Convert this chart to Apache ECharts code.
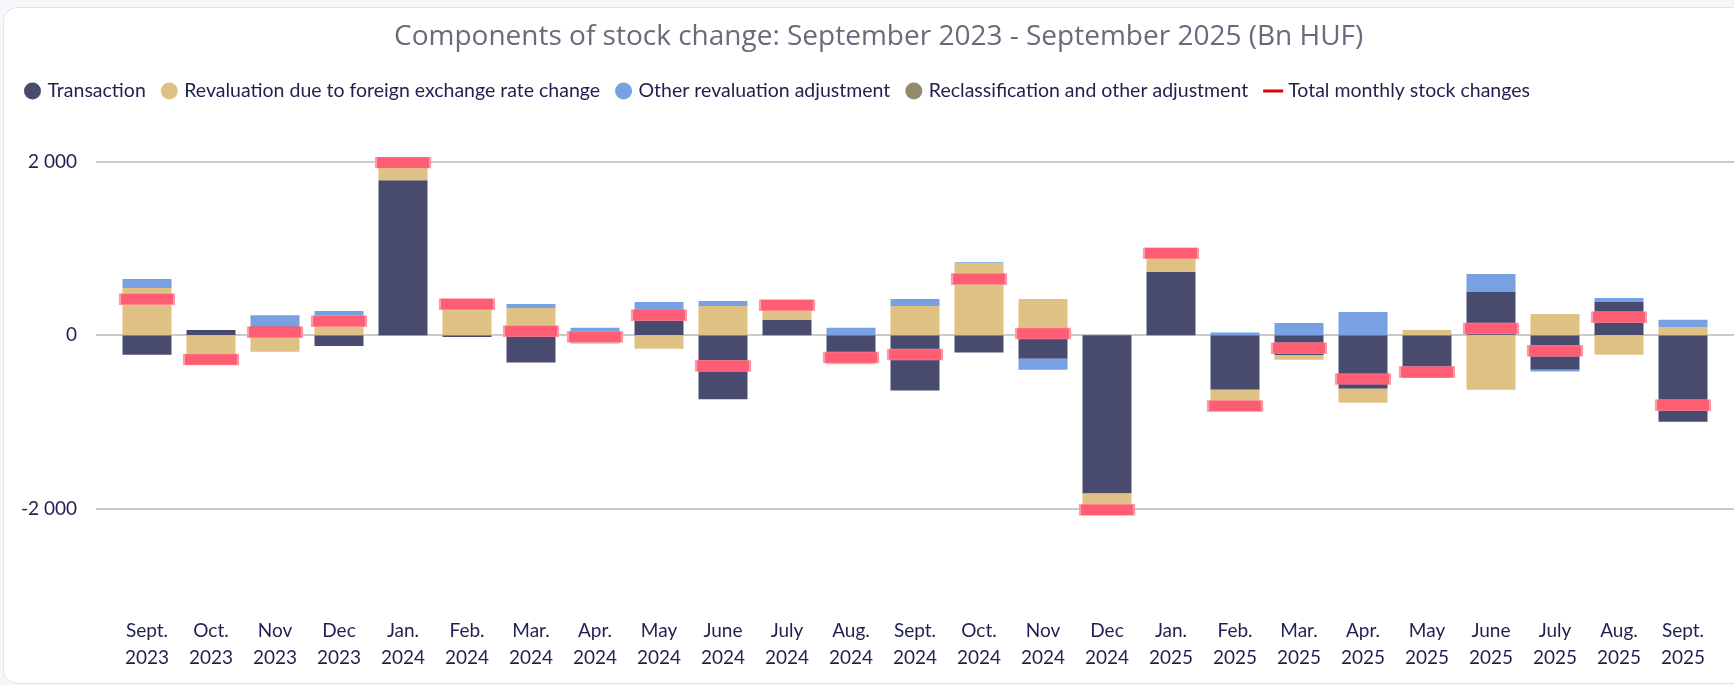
<!DOCTYPE html>
<html>
<head>
<meta charset="utf-8">
<title>Components of stock change</title>
<script src="https://cdn.jsdelivr.net/npm/echarts@6/dist/echarts.min.js"></script>
<style>
  html, body { margin: 0; padding: 0; background: #f6f6fb; }
  .card {
    position: absolute; left: 3px; top: 7px; width: 1760px; height: 675px;
    background: #fff; border: 1px solid #e2e2ec; border-radius: 14px;
  }
  #main { position: absolute; left: 0; top: 0; width: 1734px; height: 685px; }
</style>
</head>
<body>
<div class="card"></div>
<!-- chart container sits over the white card -->
<div id="main"></div>
<script>
// categories (month + year)
var months = [
  'Sept.\n2023', 'Oct.\n2023', 'Nov\n2023', 'Dec\n2023',
  'Jan.\n2024', 'Feb.\n2024', 'Mar.\n2024', 'Apr.\n2024', 'May\n2024', 'June\n2024',
  'July\n2024', 'Aug.\n2024', 'Sept.\n2024', 'Oct.\n2024', 'Nov\n2024', 'Dec\n2024',
  'Jan.\n2025', 'Feb.\n2025', 'Mar.\n2025', 'Apr.\n2025', 'May\n2025', 'June\n2025',
  'July\n2025', 'Aug.\n2025', 'Sept.\n2025'
];

// components, Bn HUF
var transaction = [-225, 60, 105, -125, 1790, -20, -315, 5, 300, -740, 177, -295, -640,
  -200, -273, -1828, 730, -630, -230, -618, -490, 499, -399, 384, -998];
var revaluationFx = [545, -290, -190, 185, 215, 375, 315, -100, -157, 338, 170, -40, 338,
  833, 419, -190, 215, -215, -54, -161, 61, -630, 246, -227, 96];
var otherRevaluation = [104, 0, 125, 95, -10, 0, 46, 80, 84, 58, 0, 85, 81,
  10, -127, 0, 0, 30, 142, 269, 0, 207, -19, 46, 81];
var reclassification = [0, -40, 0, 0, 0, 0, 0, 0, 0, 0, 0, 0, 0,
  0, 0, 0, 0, 0, 0, 0, 0, 0, 0, 0, 0];
var totalChange = [415, -280, 35, 160, 1993, 357, 46, -17, 230, -353, 346, -257, -223,
  649, 19, -2016, 945, -818, -150, -507, -426, 77, -180, 207, -810];

// y axis ticks that get a label and a grid line
var labelledTicks = [-2000, 0, 2000];

var names = [
  'Transaction',
  'Revaluation due to foreign exchange rate change',
  'Other revaluation adjustment',
  'Reclassification and other adjustment',
  'Total monthly stock changes'
];
var colors = ['#484a6e', '#dfc283', '#77a1e1', '#958a6e'];

function fmt(v) {
  var s = String(Math.abs(v)).replace(/\B(?=(\d{3})+(?!\d))/g, ' ');
  return (v < 0 ? '-' : '') + s;
}

var myChart = echarts.init(document.getElementById('main'));

var textColor = '#1f2050';
var gridTop = 162, gridBottom = 90;

function barSeries(i, data) {
  return {
    name: names[i],
    type: 'bar',
    xAxisIndex: 1,
    yAxisIndex: 1,
    stack: 'components',
    barWidth: 49,
    itemStyle: { color: colors[i] },
    data: data
  };
}

var option = {
  animation: false,
  title: {
    text: 'Components of stock change: September 2023 - September 2025 (Bn HUF)',
    left: 389,
    top: 18,
    textStyle: { fontFamily: 'Open Sans', fontSize: 28, fontWeight: 'normal', color: '#6a6a7c' }
  },
  legend: {
    left: 19,
    top: 76,
    itemWidth: 20,
    itemHeight: 17,
    itemGap: 15,
    textStyle: { fontFamily: 'Lato', fontSize: 19.5, color: textColor },
    data: [
      { name: names[0], icon: 'circle' },
      { name: names[1], icon: 'circle' },
      { name: names[2], icon: 'circle' },
      { name: names[3], icon: 'circle', itemStyle: { color: colors[3] } },
      { name: names[4], icon: 'path://M0,0H20V3H0Z', itemStyle: { color: '#e00000', borderWidth: 0 } }
    ]
  },
  // grid 0 carries the y labels and the wider grid lines, grid 1 the bars
  grid: [
    { left: 96, right: 0, top: gridTop, bottom: gridBottom },
    { left: 115, right: 19, top: gridTop, bottom: gridBottom }
  ],
  xAxis: [
    { gridIndex: 0, type: 'value', show: false, min: 0, max: 1 },
    {
      gridIndex: 1,
      type: 'category',
      data: months,
      axisLine: { show: false },
      axisTick: { show: false },
      axisLabel: {
        interval: 0,
        margin: 22,
        fontFamily: 'Lato',
        fontSize: 19,
        lineHeight: 27,
        color: textColor
      }
    }
  ],
  yAxis: [
    {
      gridIndex: 0,
      type: 'value',
      min: -3000,
      max: 2000,
      interval: 1000,
      axisLine: { show: false },
      axisTick: { show: false },
      axisLabel: {
        margin: 19,
        fontFamily: 'Lato',
        fontSize: 19,
        color: textColor,
        formatter: function (v) {
          return labelledTicks.indexOf(v) >= 0 ? fmt(v) : '';
        }
      },
      splitLine: {
        lineStyle: { color: ['rgba(0,0,0,0)', '#cacaca'], width: 2 }
      }
    },
    {
      gridIndex: 1,
      type: 'value',
      min: -3000,
      max: 2000,
      interval: 1000,
      show: false,
      splitLine: { show: false }
    }
  ],
  series: [
    barSeries(0, transaction),
    barSeries(1, revaluationFx),
    barSeries(2, otherRevaluation),
    barSeries(3, reclassification),
    {
      name: names[4],
      type: 'scatter',
      xAxisIndex: 1,
      yAxisIndex: 1,
      symbol: 'rect',
      symbolSize: [54, 11],
      z: 5,
      itemStyle: { color: '#ff5d73', borderColor: '#ff9aa9', borderWidth: 1, opacity: 1 },
      data: totalChange
    }
  ]
};

myChart.setOption(option);
</script>
</body>
</html>
